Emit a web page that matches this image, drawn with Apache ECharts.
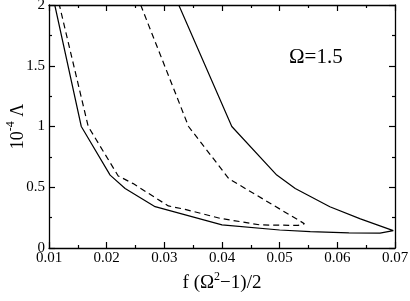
<!DOCTYPE html>
<html><head><meta charset="utf-8">
<script src="https://cdn.jsdelivr.net/npm/echarts@6/dist/echarts.min.js"></script>
<style>html,body{margin:0;padding:0;background:#fff}#c{width:410px;height:301px}</style>
</head><body><div id="c"></div>
<script>
// Solid closed curve (x values, y values)
const solidX = [0.0110, 0.0156, 0.0206, 0.0232, 0.0284, 0.0400, 0.0500, 0.0553, 0.0620, 0.0674, 0.0697, 0.0640, 0.0587, 0.0527, 0.0495, 0.0417, 0.0325];
const solidY = [2.0, 1.0, 0.60, 0.49, 0.34, 0.19, 0.148, 0.134, 0.124, 0.122, 0.143, 0.24, 0.34, 0.49, 0.60, 1.0, 2.0];
// Dashed closed curve
const dashX = [0.0259, 0.0342, 0.0412, 0.0543, 0.0532, 0.0466, 0.0397, 0.0336, 0.0307, 0.0246, 0.0220, 0.0168, 0.0118];
const dashY = [2.0, 1.0, 0.57, 0.20, 0.186, 0.19, 0.244, 0.318, 0.346, 0.53, 0.593, 1.0, 2.0];
const xTicks = [0.01, 0.02, 0.03, 0.04, 0.05, 0.06, 0.07];
const yTicks = [0, 0.5, 1, 1.5, 2];
const annotation = 'Ω=1.5';

const pair = (xs, ys) => xs.map((x, i) => [x, ys[i]]);
const font = 'Liberation Serif';
const tick = () => ({show: true, inside: true, length: 6, lineStyle: {color: '#000', width: 1.2}});
const minor = () => ({show: true, splitNumber: 2, length: 3, lineStyle: {color: '#000', width: 1.2}});
const line = () => ({show: true, onZero: false, lineStyle: {color: '#000', width: 1.3}});

const chart = echarts.init(document.getElementById('c'), null, {renderer: 'canvas'});
chart.setOption({
  animation: false,
  backgroundColor: '#fff',
  textStyle: {fontFamily: font},
  grid: {left: 49, right: 15, top: 5, bottom: 53, containLabel: false, outerBoundsMode: 'none'},
  xAxis: [{
    type: 'value', min: xTicks[0], max: xTicks[xTicks.length - 1], interval: 0.01,
    axisLine: line(), axisTick: tick(), minorTick: minor(),
    splitLine: {show: false},
    axisLabel: {color: '#000', fontFamily: font, fontSize: 15, margin: 3, formatter: v => v.toFixed(2)},
    name: '{a|f (Ω}{s|2}{a|−1)/2}', nameLocation: 'middle', nameGap: 23, nameMoveOverlap: false,
    nameTextStyle: {rich: {
      a: {fontFamily: font, fontSize: 19, color: '#000', verticalAlign: 'bottom', lineHeight: 22},
      s: {fontFamily: font, fontSize: 12, color: '#000', verticalAlign: 'top', lineHeight: 22}
    }}
  }, {
    type: 'value', position: 'top', min: xTicks[0], max: xTicks[xTicks.length - 1], interval: 0.01,
    axisLine: line(), axisTick: tick(), minorTick: minor(), splitLine: {show: false}, axisLabel: {show: false}
  }],
  yAxis: [{
    type: 'value', min: yTicks[0], max: yTicks[yTicks.length - 1], interval: 0.5,
    axisLine: line(), axisTick: tick(), minorTick: minor(),
    splitLine: {show: false},
    axisLabel: {color: '#000', fontFamily: font, fontSize: 15, margin: 4},
    name: '{a|10}{s|-4}{a| Λ}', nameLocation: 'middle', nameGap: 22, nameRotate: 90, nameMoveOverlap: false,
    nameTextStyle: {rich: {
      a: {fontFamily: font, fontSize: 18, color: '#000', verticalAlign: 'bottom', lineHeight: 22},
      s: {fontFamily: font, fontSize: 12, color: '#000', verticalAlign: 'top', lineHeight: 22}
    }}
  }, {
    type: 'value', position: 'right', min: yTicks[0], max: yTicks[yTicks.length - 1], interval: 0.5,
    axisLine: line(), axisTick: tick(), minorTick: minor(), splitLine: {show: false}, axisLabel: {show: false}
  }],
  graphic: [{
    type: 'text', left: 289, top: 47,
    style: {text: annotation, font: '21px "Liberation Serif"', fill: '#000'}
  }],
  series: [{
    type: 'line', data: pair(solidX, solidY), symbol: 'none', clip: true,
    lineStyle: {color: '#000', width: 1.2, type: 'solid'}
  }, {
    type: 'line', data: pair(dashX, dashY), symbol: 'none', clip: true,
    lineStyle: {color: '#000', width: 1.2, type: [6, 4]}
  }]
});
</script></body></html>
